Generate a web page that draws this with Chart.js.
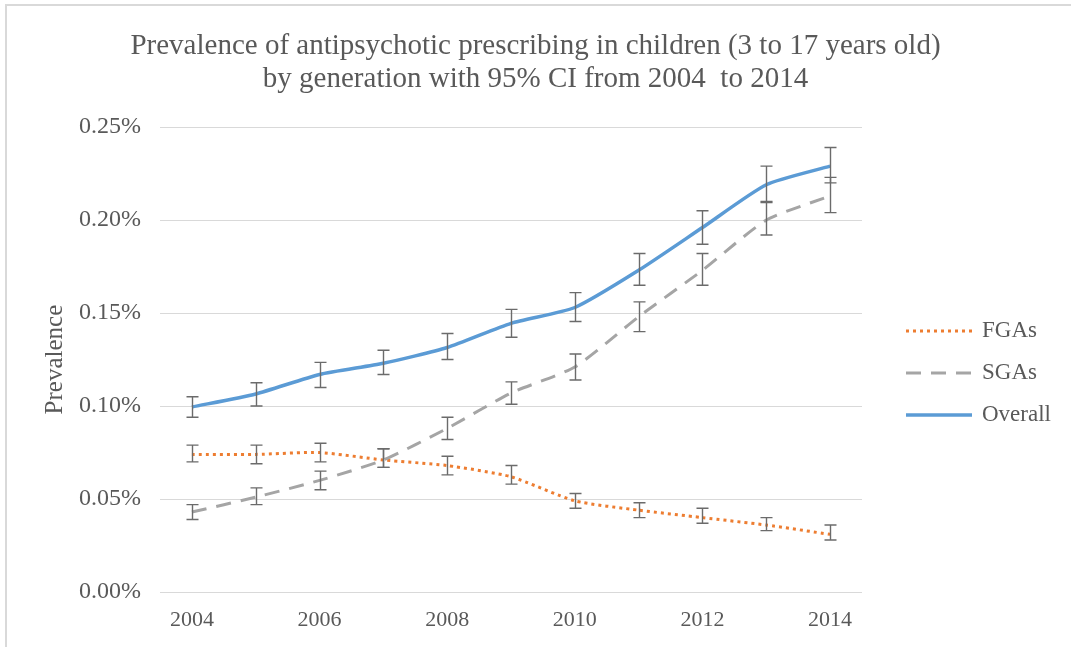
<!DOCTYPE html>
<html>
<head>
<meta charset="utf-8">
<title>Antipsychotic prescribing prevalence</title>
<script src="https://cdn.jsdelivr.net/npm/chart.js@4.4.0/dist/chart.umd.min.js"></script>
<style>
  html, body { margin: 0; padding: 0; background: #fff; overflow: hidden; }
  #frame {
    position: absolute; left: 5px; top: 4px; width: 1080px; height: 660px;
    border-left: 2px solid #d9d9d9; border-top: 2px solid #d9d9d9;
  }
  #chart { position: absolute; left: 0; top: 0; }
</style>
</head>
<body>
<div id="frame"></div>
<canvas id="chart" width="1071" height="647"></canvas>
<script>
// values in percent
const years = ["2004", "2005", "2006", "2007", "2008", "2009", "2010", "2011", "2012", "2013", "2014"];

const fgas     = [0.074, 0.074, 0.075, 0.071, 0.068, 0.062, 0.049, 0.044, 0.040, 0.036, 0.031];
const fgasLow  = [0.070, 0.069, 0.070, 0.067, 0.063, 0.058, 0.045, 0.040, 0.037, 0.033, 0.028];
const fgasHigh = [0.079, 0.079, 0.080, 0.077, 0.073, 0.068, 0.053, 0.048, 0.045, 0.040, 0.036];

const sgas     = [0.043, 0.051, 0.060, 0.071, 0.088, 0.107, 0.121, 0.148, 0.173, 0.200, 0.213];
const sgasLow  = [0.039, 0.047, 0.055, 0.067, 0.082, 0.101, 0.114, 0.140, 0.165, 0.192, 0.204];
const sgasHigh = [0.047, 0.056, 0.065, 0.077, 0.094, 0.113, 0.128, 0.156, 0.182, 0.210, 0.223];

const overall     = [0.0995, 0.1065, 0.117, 0.123, 0.1315, 0.1445, 0.153, 0.173, 0.196, 0.219, 0.229];
const overallLow  = [0.094, 0.100, 0.110, 0.117, 0.125, 0.137, 0.1455, 0.165, 0.187, 0.2095, 0.220];
const overallHigh = [0.105, 0.1125, 0.1235, 0.130, 0.139, 0.152, 0.161, 0.182, 0.205, 0.229, 0.239];

const yTicks = [0, 0.05, 0.10, 0.15, 0.20, 0.25];

const textColor = "#595959";
const serif = "'Liberation Serif', 'Times New Roman', serif";

// 95% CI whiskers, drawn on top of the lines
const errorBars = {
  id: "errorBars",
  afterDatasetsDraw(chart) {
    const ctx = chart.ctx;
    const y = chart.scales.y;
    ctx.save();
    ctx.strokeStyle = "#6b6b6b";
    ctx.lineWidth = 1.4;
    chart.data.datasets.forEach((ds, di) => {
      const meta = chart.getDatasetMeta(di);
      meta.data.forEach((pt, i) => {
        const top = y.getPixelForValue(ds.ciHigh[i]);
        const bot = y.getPixelForValue(ds.ciLow[i]);
        const x = Math.round(pt.x) + 0.5;
        ctx.beginPath();
        ctx.moveTo(x, top); ctx.lineTo(x, bot);
        ctx.moveTo(x - 6, top); ctx.lineTo(x + 6, top);
        ctx.moveTo(x - 6, bot); ctx.lineTo(x + 6, bot);
        ctx.stroke();
      });
    });
    ctx.restore();
  }
};

// legend on the right with line samples
const lineLegend = {
  id: "lineLegend",
  afterDraw(chart) {
    const ctx = chart.ctx;
    const rows = [331, 373, 415];
    ctx.save();
    chart.data.datasets.forEach((ds, i) => {
      const yy = rows[i];
      ctx.strokeStyle = ds.borderColor;
      ctx.lineWidth = ds.borderWidth;
      ctx.setLineDash(ds.borderDash || []);
      ctx.beginPath();
      ctx.moveTo(906, yy);
      ctx.lineTo(972, yy);
      ctx.stroke();
      ctx.setLineDash([]);
      ctx.fillStyle = textColor;
      ctx.font = "23px " + serif;
      ctx.textBaseline = "middle";
      ctx.fillText(ds.label, 982, yy);
    });
    ctx.restore();
  }
};

new Chart(document.getElementById("chart"), {
  type: "line",
  data: {
    labels: years,
    datasets: [
      {
        label: "FGAs",
        data: fgas, ciLow: fgasLow, ciHigh: fgasHigh,
        borderColor: "#ed7d31",
        borderWidth: 3,
        borderDash: [3, 4],
        tension: 0.2,
        pointRadius: 0,
        order: 3
      },
      {
        label: "SGAs",
        data: sgas, ciLow: sgasLow, ciHigh: sgasHigh,
        borderColor: "#a5a5a5",
        borderWidth: 3,
        borderDash: [15, 10],
        tension: 0.2,
        pointRadius: 0,
        order: 2
      },
      {
        label: "Overall",
        data: overall, ciLow: overallLow, ciHigh: overallHigh,
        borderColor: "#5b9bd5",
        borderWidth: 3.5,
        tension: 0.2,
        pointRadius: 0,
        order: 1
      }
    ]
  },
  options: {
    responsive: false,
    animation: false,
    layout: { padding: 0 },
    plugins: {
      legend: { display: false },
      tooltip: { enabled: false },
      title: {
        display: true,
        text: [
          "Prevalence of antipsychotic prescribing in children (3 to 17 years old)",
          "by generation with 95% CI from 2004  to 2014"
        ],
        color: textColor,
        font: { family: serif, size: 29, weight: "normal", lineHeight: 1.14 },
        padding: { top: 30, bottom: 31 }
      }
    },
    scales: {
      x: {
        offset: true,
        grid: { display: false },
        border: { display: false },
        ticks: {
          autoSkip: false,
          maxRotation: 0,
          padding: 7,
          color: textColor,
          font: { family: serif, size: 22 },
          callback: (v, i) => (i % 2 === 0 ? years[i] : "")
        },
        afterFit: (s) => { s.height = 55; }
      },
      y: {
        min: yTicks[0],
        max: yTicks[yTicks.length - 1],
        afterBuildTicks: (s) => { s.ticks = yTicks.map(v => ({ value: v })); },
        grid: { color: "#d9d9d9", lineWidth: 1, drawTicks: false },
        border: { display: false },
        ticks: {
          padding: 19,
          color: textColor,
          font: { family: serif, size: 24 },
          callback: (v) => v.toFixed(2) + "%"
        },
        title: {
          display: true,
          text: "Prevalence",
          color: textColor,
          font: { family: serif, size: 25 },
          padding: { top: 40 }
        },
        afterFit: (s) => { s.width = 160; }
      },
      // empty right-hand axis that keeps room for the legend
      legendSpace: {
        type: "linear",
        position: "right",
        grid: { display: false },
        border: { display: false },
        ticks: { display: false },
        afterFit: (s) => { s.width = 209; }
      }
    }
  },
  plugins: [errorBars, lineLegend]
});
</script>
</body>
</html>
